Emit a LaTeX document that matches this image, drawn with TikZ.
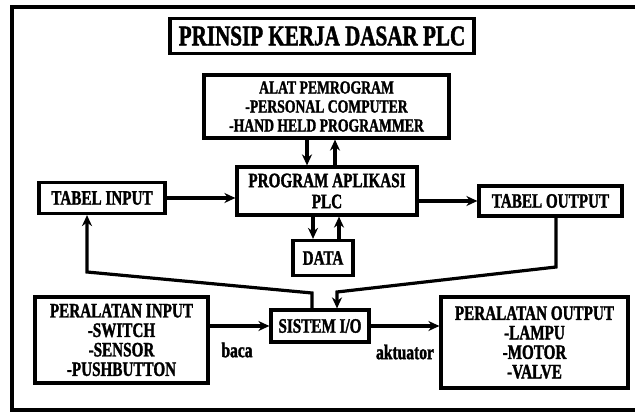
\documentclass[tikz,border=0pt]{standalone}
\usepackage{fontspec}
\newfontfamily\pf[FakeStretch=0.74,FakeBold=1.5]{Liberation Serif}
\usetikzlibrary{arrows.meta}
\tikzset{
  bx/.style={draw, line width=3.2pt, inner sep=0pt, align=center,
    font=\pf\bfseries\fontsize{20.5}{19.5}\selectfont},
  arr/.style={line width=3.2pt, -{Stealth[length=11pt,width=10pt]}},
  lbl/.style={inner sep=0pt, font=\pf\bfseries\fontsize{21}{20}\selectfont}
}
\begin{document}
\begin{tikzpicture}[x=1pt,y=-1pt]
\useasboundingbox (0,0) rectangle (635,414);
\clip (0,0) rectangle (635,414);
\fill[white] (0,0) rectangle (635,414);
\draw[line width=4pt] (12,7) rectangle (650,410);
\node[bx, minimum width=304pt, minimum height=35pt, font=\pf\bfseries\fontsize{28.5}{30}\selectfont] (title) at (322,36) {PRINSIP KERJA DASAR PLC};
\node[bx, minimum width=245pt, minimum height=63pt, font=\pf\bfseries\fontsize{18.5}{19}\selectfont] (alat) at (326.5,106.5) {ALAT PEMROGRAM\\-PERSONAL COMPUTER\\-HAND HELD PROGRAMMER};
\node[bx, minimum width=180pt, minimum height=48pt, font=\pf\bfseries\fontsize{20.5}{21}\selectfont] (prog) at (327,191) {PROGRAM APLIKASI\\PLC};
\node[bx, minimum width=126pt, minimum height=31pt] (tin) at (102,198) {TABEL INPUT};
\node[bx, minimum width=143pt, minimum height=30pt] (tout) at (550.5,201) {TABEL OUTPUT};
\node[bx, minimum width=60pt, minimum height=35pt] (data) at (323,258) {DATA};
\node[bx, minimum width=98pt, minimum height=32pt] (sys) at (320,326) {SISTEM I/O};
\node[bx, minimum width=173pt, minimum height=86pt] (pin) at (121.5,340) {PERALATAN INPUT\\-SWITCH\\-SENSOR\\-PUSHBUTTON};
\node[bx, minimum width=187pt, minimum height=91pt] (pout) at (534.5,342.5) {PERALATAN OUTPUT\\-LAMPU\\-MOTOR\\-VALVE};
\node[lbl] (baca) at (237,350) {baca};
\node[lbl] (akt) at (405,352) {aktuator};
% programmer <-> program
\draw[arr] ([xshift=-19.5pt]alat.south) -- ([xshift=-20pt]prog.north);
\draw[arr] ([xshift=8pt]prog.north) -- ([xshift=8.5pt]alat.south);
% program <-> data
\draw[arr] ([xshift=-14pt]prog.south) -- ([xshift=-10pt]data.north);
\draw[arr] ([xshift=16pt]data.north) -- ([xshift=12pt]prog.south);
% tables
\draw[arr] (tin.east) -- (tin.east -| prog.west);
\draw[arr] (tout.west -| prog.east) -- (tout.west);
% feedback lines
\coordinate (fa) at (312,293);
\coordinate (fb) at (87,272);
\draw[arr] ([xshift=-8pt]sys.north) -- (fa) -- (fb) -- (fb |- tin.south);
\coordinate (fc) at (556,267);
\coordinate (fd) at (337,292);
\draw[arr] (fc |- tout.south) -- (fc) -- (fd) -- (fd |- sys.north);
% IO
\draw[arr] (sys.west -| pin.east) -- (sys.west);
\draw[arr] (sys.east) -- (sys.east -| pout.west);
\end{tikzpicture}
\end{document}
